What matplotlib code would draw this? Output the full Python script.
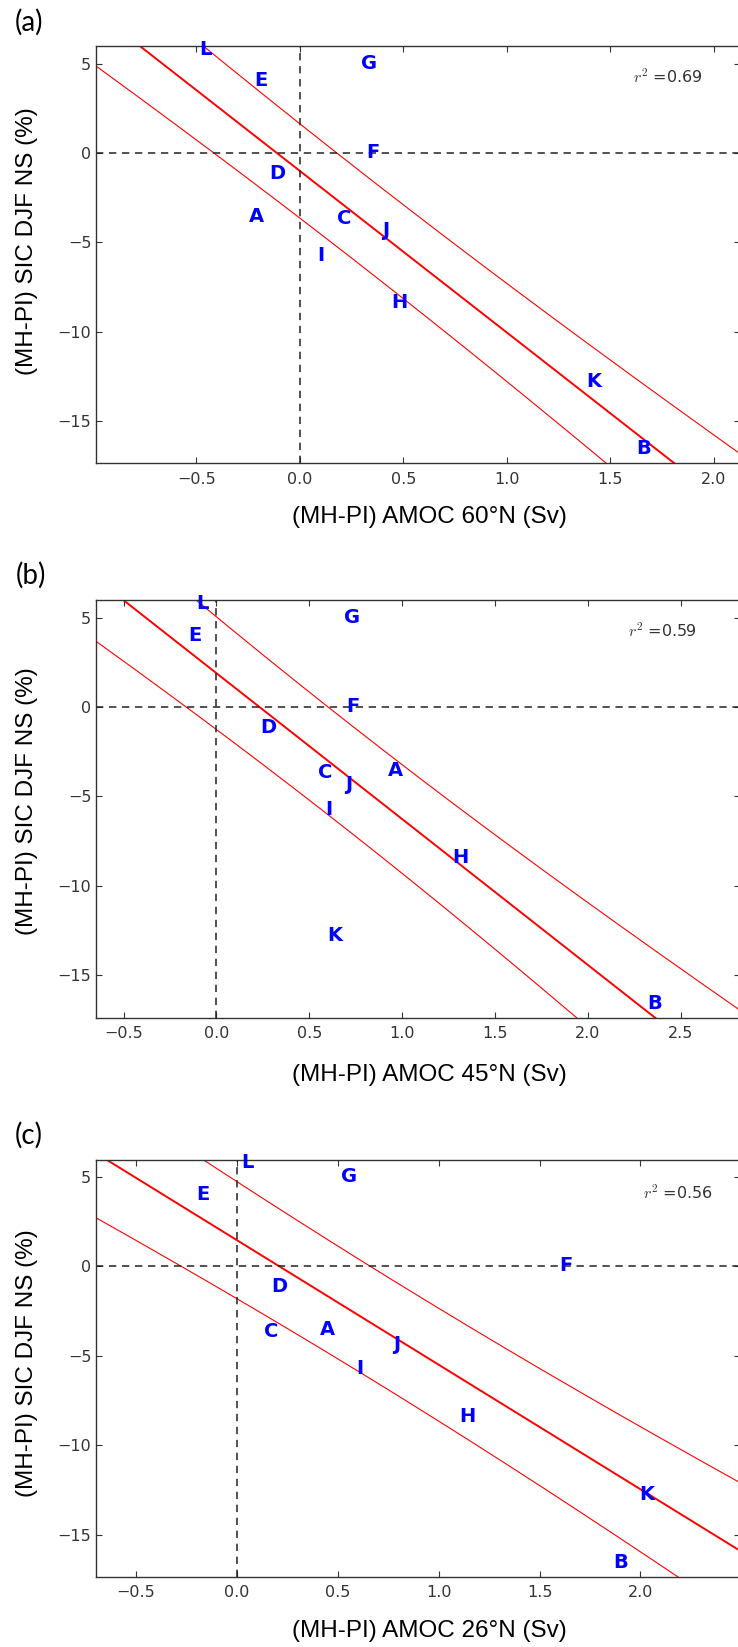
import numpy as np
import matplotlib
matplotlib.use('Agg')
import matplotlib.pyplot as plt

# model letters and (MH-PI) values
models   = ['A', 'B', 'C', 'D', 'E', 'F', 'G', 'H', 'I', 'J', 'K', 'L']
sic_djf  = [-3.84, -16.87, -3.97, -1.46, 3.72, -0.27, 4.71, -8.70, -6.02, -4.65, -13.08, 5.48]
amoc_60  = [-0.244, 1.627, 0.178, -0.146, -0.219, 0.321, 0.294, 0.444, 0.084, 0.400, 1.386, -0.487]
amoc_45  = [0.926, 2.320, 0.545, 0.237, -0.151, 0.698, 0.686, 1.271, 0.587, 0.693, 0.598, -0.107]
amoc_26  = [0.414, 1.865, 0.134, 0.172, -0.199, 1.598, 0.518, 1.104, 0.592, 0.777, 1.993, 0.021]
r2_text  = ['0.69', '0.59', '0.56']
tags     = ['(a)', '(b)', '(c)']
xlabels  = ['(MH-PI) AMOC 60°N (Sv)', '(MH-PI) AMOC 45°N (Sv)', '(MH-PI) AMOC 26°N (Sv)']
ylabel   = '(MH-PI) SIC DJF NS (%)'

band_k = 0.63       # half width of the band in units of prediction std

W, H = 738, 1647
fig = plt.figure(figsize=(W/100, H/100), dpi=100)

tops    = [46.0, 600.2, 1159.5]       # axes top edge, px
ax_h    = 417.4
left_px = 95.5
right_px = 740.0
r2_pos  = [(0.8335, 0.928), (0.826, 0.927), (0.850, 0.922)]
tag_pos = [(29.2, 22.6), (30.6, 575.0), (29.2, 1135.0)]
xl_y    = [517.0, 1075.0, 1631.0]
yl_y    = [241.0, 801.0, 1363.0]

dark = '#333333'

for p, xv in enumerate([amoc_60, amoc_45, amoc_26]):
	x = np.asarray(xv)
	y = np.asarray(sic_djf)
	ax = fig.add_axes([left_px/W, 1 - (tops[p] + ax_h)/H, (right_px - left_px)/W, ax_h/H])

	xmin, xmax = x.min() - 0.5, x.max() + 0.5
	ymin, ymax = y.min() - 0.5, y.max() + 0.5

	# linear fit and band
	b, a = np.polyfit(x, y, 1)
	n    = len(x)
	s    = np.sqrt(np.sum((y - (a + b*x))**2) / (n - 2))
	sxx  = np.sum((x - x.mean())**2)
	xs   = np.linspace(xmin, xmax, 200)
	fit  = a + b*xs
	dy   = band_k * s * np.sqrt(1 + 1.0/n + (xs - x.mean())**2 / sxx)

	ax.plot(xs, fit, color='red', lw=1.4)
	ax.plot(xs, fit + dy, color='red', lw=0.8)
	ax.plot(xs, fit - dy, color='red', lw=0.8)

	ax.axhline(0, color='#222222', lw=1.1, ls='--', dashes=(4.8, 3.7))
	ax.axvline(0, color='#222222', lw=1.1, ls='--', dashes=(4.8, 3.7))

	for m, xi, yi in zip(models, x, y):
		ax.text(xi, yi, m, color='blue', fontsize=14, fontweight='bold')

	ax.text(r2_pos[p][0], r2_pos[p][1], r'$r^2$ =' + r2_text[p], transform=ax.transAxes,
	        fontsize=11.5, color=dark, va='center', ha='left',
	        math_fontfamily='cm')

	ax.set_xlim(xmin, xmax)
	ax.set_ylim(ymin, ymax)
	ax.set_xticks(np.arange(-0.5, xmax, 0.5))
	ax.set_yticks([-15, -10, -5, 0, 5])
	ax.tick_params(direction='in', top=True, right=True, length=4, width=0.8,
	               colors=dark, labelsize=11.5)
	ax.tick_params(axis='x', pad=6)
	ax.tick_params(axis='y', pad=3)
	for sp in ax.spines.values():
		sp.set_color(dark)
		sp.set_linewidth(1.0)

	fig.text(429.6/W, 1 - xl_y[p]/H, xlabels[p], ha='center', va='center',
	         fontsize=17.5, family='Liberation Sans')
	fig.text(27.3/W, 1 - yl_y[p]/H, ylabel, ha='center', va='center', rotation=90,
	         fontsize=17.5, family='Liberation Sans')
	fig.text(tag_pos[p][0]/W, 1 - tag_pos[p][1]/H, tags[p], ha='center', va='center',
	         fontsize=20, family='Lato')

fig.savefig('out.png', dpi=100)
